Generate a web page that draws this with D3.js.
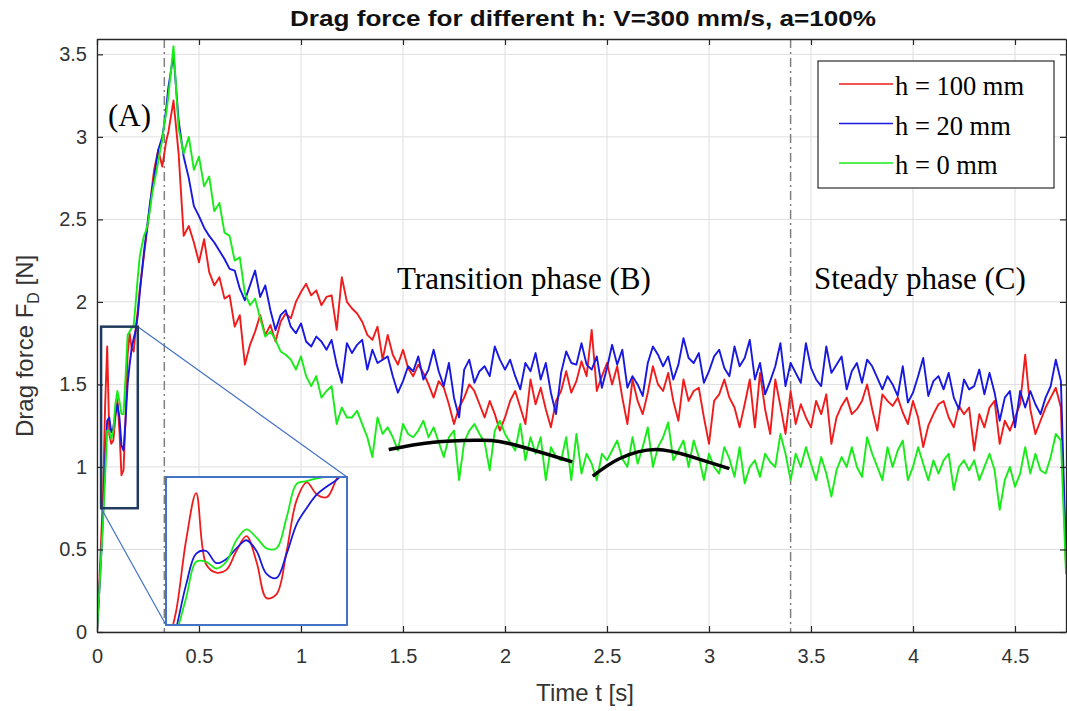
<!DOCTYPE html>
<html>
<head>
<meta charset="utf-8">
<title>Drag force for different h</title>
<script src="https://cdn.jsdelivr.net/npm/d3@7"></script>
<style>
  body { margin: 0; background: #fff; }
  text { font-family: "Liberation Sans", Arial, Helvetica, sans-serif; }
  .serif { font-family: "Liberation Serif", "Times New Roman", serif; }
</style>
</head>
<body>
<script>
// sample times: fine steps during the start-up, coarser afterwards
var earlyStep = 0.01;
var mainStart = 0.35, mainStep = 0.025;

var seriesNames = ["h = 100 mm", "h = 20 mm", "h = 0 mm"];
var seriesColors = ["#f01c1c", "#1818e0", "#18ec18"];

// t = 0 .. 0.34 s
var redEarly = [0, 0.25, 0.55, 0.85, 1.38, 1.73, 1.20, 1.14, 1.16, 1.30, 1.41, 1.22, 0.95, 0.98, 1.30, 1.68, 1.81, 1.72, 1.70, 1.84,
  1.95, 2.08, 2.18, 2.28, 2.38, 2.48, 2.58, 2.70, 2.80, 2.86, 2.92, 2.87, 2.82, 2.90, 2.98];
var blueEarly = [0, 0.22, 0.45, 0.72, 1.05, 1.28, 1.30, 1.21, 1.24, 1.32, 1.38, 1.30, 1.13, 1.10, 1.28, 1.50, 1.62, 1.72, 1.78, 1.83,
  1.92, 2.06, 2.18, 2.30, 2.40, 2.50, 2.60, 2.68, 2.75, 2.84, 2.92, 2.96, 3.00, 3.08, 3.18];
var greenEarly = [0, 0.22, 0.45, 0.68, 0.95, 1.22, 1.22, 1.17, 1.22, 1.38, 1.46, 1.40, 1.32, 1.32, 1.55, 1.80, 1.82, 1.84, 1.86, 2.00,
  2.15, 2.28, 2.34, 2.40, 2.43, 2.48, 2.56, 2.65, 2.72, 2.78, 2.85, 2.92, 2.98, 3.08, 3.15];

// t = 0.35 .. 4.75 s
var redMain = [
  3.03, 3.22, 2.90, 2.40, 2.46, 2.36, 2.24, 2.38,
  2.18, 2.10, 2.15, 2.02, 2.04, 1.85, 1.92, 1.62,
  1.74, 1.82, 1.92, 1.80, 1.86, 1.76, 1.88, 1.93,
  1.90, 2.00, 2.06, 2.11, 2.04, 2.07, 1.98, 2.03,
  2.04, 1.83, 2.15, 2.00, 1.96, 1.93, 1.88, 1.80,
  1.77, 1.85, 1.65, 1.80, 1.68, 1.62, 1.71, 1.60,
  1.55, 1.62, 1.57, 1.50, 1.42, 1.52, 1.48, 1.38,
  1.26, 1.36, 1.42, 1.50, 1.46, 1.38, 1.30, 1.40,
  1.32, 1.22, 1.30, 1.40, 1.46, 1.36, 1.26, 1.53,
  1.38, 1.48, 1.35, 1.24, 1.40, 1.46, 1.58, 1.45,
  1.52, 1.64, 1.55, 1.83, 1.46, 1.55, 1.63, 1.50,
  1.61, 1.42, 1.26, 1.53, 1.40, 1.32, 1.45, 1.61,
  1.50, 1.46, 1.57, 1.40, 1.28, 1.53, 1.40, 1.46,
  1.48, 1.30, 1.14, 1.40, 1.44, 1.53, 1.42, 1.36,
  1.24, 1.38, 1.53, 1.24, 1.57, 1.35, 1.20, 1.53,
  1.37, 1.20, 1.46, 1.26, 1.38, 1.30, 1.24, 1.40,
  1.32, 1.44, 1.14, 1.30, 1.37, 1.42, 1.32, 1.35,
  1.40, 1.50, 1.35, 1.22, 1.44, 1.40, 1.37, 1.42,
  1.33, 1.26, 1.40, 1.30, 1.12, 1.25, 1.32, 1.38,
  1.40, 1.30, 1.24, 1.37, 1.32, 1.36, 1.10, 1.32,
  1.24, 1.36, 1.40, 1.14, 1.28, 1.22, 1.30, 1.38,
  1.68, 1.35, 1.20, 1.28, 1.36, 1.42, 1.48, 1.36,
  0.40];
var blueMain = [
  3.30, 3.50, 3.10, 2.88, 2.75, 2.58, 2.52, 2.45,
  2.40, 2.36, 2.31, 2.26, 2.20, 2.19, 2.08, 2.01,
  2.10, 2.19, 2.03, 2.10, 1.95, 1.83, 1.92, 1.95,
  1.85, 1.81, 1.87, 1.76, 1.73, 1.79, 1.76, 1.71,
  1.77, 1.62, 1.51, 1.75, 1.69, 1.74, 1.77, 1.59,
  1.71, 1.63, 1.65, 1.67, 1.55, 1.45, 1.52, 1.61,
  1.58, 1.67, 1.53, 1.59, 1.71, 1.58, 1.49, 1.63,
  1.42, 1.30, 1.59, 1.65, 1.51, 1.58, 1.61, 1.55,
  1.73, 1.65, 1.59, 1.65, 1.55, 1.47, 1.63, 1.58,
  1.69, 1.53, 1.63, 1.45, 1.32, 1.57, 1.70, 1.63,
  1.62, 1.75, 1.62, 1.59, 1.67, 1.48, 1.60, 1.74,
  1.62, 1.71, 1.48, 1.55, 1.50, 1.43, 1.63, 1.73,
  1.68, 1.61, 1.67, 1.53, 1.62, 1.78, 1.66, 1.63,
  1.69, 1.51, 1.58, 1.67, 1.71, 1.60, 1.55, 1.73,
  1.61, 1.66, 1.77, 1.53, 1.63, 1.44, 1.52, 1.61,
  1.75, 1.49, 1.63, 1.57, 1.51, 1.75, 1.60, 1.53,
  1.49, 1.73, 1.57, 1.62, 1.67, 1.47, 1.58, 1.63,
  1.51, 1.65, 1.61, 1.54, 1.47, 1.55, 1.50, 1.43,
  1.61, 1.39, 1.45, 1.55, 1.66, 1.43, 1.52, 1.55,
  1.47, 1.57, 1.42, 1.35, 1.53, 1.47, 1.49, 1.59,
  1.44, 1.57, 1.45, 1.28, 1.42, 1.46, 1.24, 1.46,
  1.36, 1.46, 1.38, 1.32, 1.42, 1.49, 1.65, 1.52,
  0.45];
var greenMain = [
  3.25, 3.55, 3.05, 2.90, 3.00, 2.80, 2.88, 2.70,
  2.76, 2.55, 2.60, 2.42, 2.40, 2.25, 2.27, 2.05,
  1.98, 2.02, 1.90, 1.79, 1.82, 1.77, 1.70, 1.68,
  1.65, 1.59, 1.67, 1.55, 1.49, 1.55, 1.42, 1.46,
  1.49, 1.26, 1.36, 1.30, 1.30, 1.34, 1.26, 1.18,
  1.06, 1.30, 1.20, 1.24, 1.18, 1.10, 1.26, 1.20,
  1.18, 1.22, 1.28, 1.18, 1.24, 1.15, 1.06, 1.18,
  1.22, 0.92, 1.15, 1.22, 1.26, 1.20, 1.15, 0.98,
  1.22, 1.28, 1.20, 1.15, 1.10, 1.26, 1.04, 1.18,
  1.08, 1.18, 0.92, 1.12, 1.06, 1.04, 1.18, 0.92,
  1.20, 0.96, 1.08, 1.02, 0.92, 1.08, 1.04, 1.10,
  1.16, 1.05, 1.00, 1.18, 1.02, 1.12, 1.24, 1.00,
  1.12, 1.18, 1.27, 1.04, 1.10, 1.16, 1.00, 1.16,
  1.06, 0.92, 1.08, 1.00, 0.96, 1.12, 1.05, 0.94,
  1.12, 0.90, 1.00, 1.04, 0.94, 1.08, 1.03, 1.00,
  1.20, 1.08, 0.92, 1.08, 1.00, 1.12, 1.02, 0.92,
  1.06, 0.96, 0.82, 0.98, 1.06, 1.00, 1.12, 1.00,
  0.94, 1.18, 1.08, 1.00, 0.92, 1.12, 1.00, 1.10,
  1.16, 0.92, 1.00, 1.12, 1.02, 0.92, 1.04, 0.96,
  1.04, 1.08, 0.86, 1.00, 1.04, 0.98, 1.04, 0.92,
  1.00, 1.08, 0.98, 0.74, 0.92, 1.00, 0.88, 0.96,
  1.12, 0.96, 1.08, 0.98, 0.96, 1.06, 1.20, 1.16,
  0.35];

var xTicks = [0, 0.5, 1, 1.5, 2, 2.5, 3, 3.5, 4, 4.5];
var xTickLabels = ["0", "0.5", "1", "1.5", "2", "2.5", "3", "3.5", "4", "4.5"];
var yTicks = [0, 0.5, 1, 1.5, 2, 2.5, 3, 3.5];
var yTickLabels = ["0", "0.5", "1", "1.5", "2", "2.5", "3", "3.5"];

// phase borders (dash-dot) and zoomed window
var phaseBorders = [0.33, 3.4];
var zoomT = [0.02, 0.2], zoomF = [0.75, 1.85];

// hand-drawn trend arcs over the h = 0 mm curve
var arcOneT = [1.43, 1.65, 1.86, 2.02, 2.33];
var arcOneF = [1.106, 1.15, 1.162, 1.142, 1.031];
var arcTwoT = [2.43, 2.56, 2.74, 2.92, 3.10];
var arcTwoF = [0.944, 1.05, 1.106, 1.06, 0.99];

var width = 1067, height = 711;
var plot = { left: 97, right: 1066, top: 39, bottom: 632 };
var inset = { left: 166, top: 477, width: 181, height: 148 };

var svg = d3.select("body").append("svg")
  .attr("width", width)
  .attr("height", height)
  .style("background", "#fff");

var x = d3.scaleLinear().domain([0, 4.75]).range([plot.left, plot.right]);
var y = d3.scaleLinear().domain([0, 3.593]).range([plot.bottom, plot.top]);

function toPoints(early, main) {
  var pts = early.map(function (f, i) { return { t: i * earlyStep, f: f }; });
  return pts.concat(main.map(function (f, i) { return { t: mainStart + i * mainStep, f: f }; }));
}
var series = [
  { name: seriesNames[0], color: seriesColors[0], values: toPoints(redEarly, redMain) },
  { name: seriesNames[1], color: seriesColors[1], values: toPoints(blueEarly, blueMain) },
  { name: seriesNames[2], color: seriesColors[2], values: toPoints(greenEarly, greenMain) }
];

svg.append("defs").append("clipPath").attr("id", "plotclip")
  .append("rect")
  .attr("x", plot.left).attr("y", plot.top)
  .attr("width", plot.right - plot.left).attr("height", plot.bottom - plot.top);
svg.select("defs").append("clipPath").attr("id", "insetclip")
  .append("rect")
  .attr("x", inset.left).attr("y", inset.top)
  .attr("width", inset.width).attr("height", inset.height);

// grid
svg.append("g").selectAll("line").data(xTicks).enter().append("line")
  .attr("x1", function (d) { return x(d); }).attr("x2", function (d) { return x(d); })
  .attr("y1", plot.top).attr("y2", plot.bottom)
  .attr("stroke", "#dedede").attr("stroke-width", 1);
svg.append("g").selectAll("line").data(yTicks).enter().append("line")
  .attr("y1", function (d) { return y(d); }).attr("y2", function (d) { return y(d); })
  .attr("x1", plot.left).attr("x2", plot.right)
  .attr("stroke", "#dedede").attr("stroke-width", 1);

// phase borders
svg.append("g").selectAll("line").data(phaseBorders).enter().append("line")
  .attr("x1", function (d) { return x(d); }).attr("x2", function (d) { return x(d); })
  .attr("y1", plot.top).attr("y2", plot.bottom)
  .attr("stroke", "#808080").attr("stroke-width", 1.5)
  .attr("stroke-dasharray", "9,4,2,4");

// curves
var line = d3.line()
  .x(function (d) { return x(d.t); })
  .y(function (d) { return y(d.f); });

svg.append("g").attr("clip-path", "url(#plotclip)")
  .selectAll("path").data(series).enter().append("path")
  .attr("d", function (d) { return line(d.values); })
  .attr("fill", "none")
  .attr("stroke", function (d) { return d.color; })
  .attr("stroke-width", 1.9)
  .attr("stroke-linejoin", "round");

// trend arcs
var arcLine = d3.line().curve(d3.curveNatural)
  .x(function (d) { return x(d[0]); })
  .y(function (d) { return y(d[1]); });
[d3.zip(arcOneT, arcOneF), d3.zip(arcTwoT, arcTwoF)].forEach(function (pts) {
  svg.append("path")
    .attr("d", arcLine(pts))
    .attr("fill", "none")
    .attr("stroke", "#000")
    .attr("stroke-width", 3.5);
});

// zoom window + connectors
svg.append("line")
  .attr("x1", x(zoomT[1])).attr("y1", y(zoomF[1]))
  .attr("x2", inset.left + inset.width).attr("y2", inset.top)
  .attr("stroke", "#4472c4").attr("stroke-width", 1.2);
svg.append("line")
  .attr("x1", x(zoomT[0])).attr("y1", y(zoomF[0]))
  .attr("x2", inset.left).attr("y2", inset.top + inset.height)
  .attr("stroke", "#4472c4").attr("stroke-width", 1.2);
svg.append("rect")
  .attr("x", x(zoomT[0])).attr("y", y(zoomF[1]))
  .attr("width", x(zoomT[1]) - x(zoomT[0]))
  .attr("height", y(zoomF[0]) - y(zoomF[1]))
  .attr("fill", "none")
  .attr("stroke", "#1f3a5c").attr("stroke-width", 2.5);

// inset
var xi = d3.scaleLinear().domain(zoomT).range([inset.left, inset.left + inset.width]);
var yi = d3.scaleLinear().domain(zoomF).range([inset.top + inset.height, inset.top]);
var insetLine = d3.line().curve(d3.curveCatmullRom)
  .x(function (d) { return xi(d.t); })
  .y(function (d) { return yi(d.f); });
svg.append("rect")
  .attr("x", inset.left).attr("y", inset.top)
  .attr("width", inset.width).attr("height", inset.height)
  .attr("fill", "#fff");
svg.append("g").attr("clip-path", "url(#insetclip)")
  .selectAll("path").data(series).enter().append("path")
  .attr("d", function (d) { return insetLine(d.values.filter(function (p) { return p.t <= 0.25; })); })
  .attr("fill", "none")
  .attr("stroke", function (d) { return d.color; })
  .attr("stroke-width", 1.8);
svg.append("rect")
  .attr("x", inset.left).attr("y", inset.top)
  .attr("width", inset.width).attr("height", inset.height)
  .attr("fill", "none")
  .attr("stroke", "#4472c4").attr("stroke-width", 2);

// axes (MATLAB style box, ticks pointing in)
function styleAxis(g) {
  g.select(".domain").attr("stroke", "#262626").attr("stroke-width", 1.3);
  g.selectAll(".tick line").attr("stroke", "#262626").attr("stroke-width", 1.2);
  g.selectAll(".tick text").attr("fill", "#333").attr("font-size", 20)
    .attr("font-family", "'Liberation Sans', Arial, sans-serif");
}
svg.append("g").attr("transform", "translate(0," + plot.bottom + ")")
  .call(d3.axisBottom(x).tickValues(xTicks).tickSizeInner(-6).tickSizeOuter(0).tickPadding(17)
    .tickFormat(function (d, i) { return xTickLabels[i]; }))
  .call(styleAxis);
svg.append("g").attr("transform", "translate(0," + plot.top + ")")
  .call(d3.axisTop(x).tickValues(xTicks).tickSizeInner(-6).tickSizeOuter(0).tickFormat(""))
  .call(styleAxis);
svg.append("g").attr("transform", "translate(" + plot.left + ",0)")
  .call(d3.axisLeft(y).tickValues(yTicks).tickSizeInner(-6).tickSizeOuter(0).tickPadding(10)
    .tickFormat(function (d, i) { return yTickLabels[i]; }))
  .call(styleAxis);
svg.append("g").attr("transform", "translate(" + plot.right + ",0)")
  .call(d3.axisRight(y).tickValues(yTicks).tickSizeInner(-6).tickSizeOuter(0).tickFormat(""))
  .call(styleAxis);

// legend
var legend = svg.append("g").attr("transform", "translate(818,61)");
legend.append("rect")
  .attr("width", 236).attr("height", 127)
  .attr("fill", "#fff").attr("stroke", "#000").attr("stroke-width", 1);
var items = legend.selectAll("g.item").data(series).enter().append("g")
  .attr("transform", function (d, i) { return "translate(0," + (34 + i * 39.5) + ")"; });
items.append("line")
  .attr("x1", 21).attr("x2", 75).attr("y1", -11).attr("y2", -11)
  .attr("stroke", function (d) { return d.color; }).attr("stroke-width", 1.5);
items.append("text")
  .attr("class", "serif")
  .attr("x", 77).attr("y", 0)
  .attr("font-size", 26.5)
  .attr("fill", "#000")
  .text(function (d) { return d.name; });

// annotations
svg.append("text").attr("class", "serif").attr("x", 108).attr("y", 126)
  .attr("font-size", 31).text("(A)");
svg.append("text").attr("class", "serif").attr("x", 397).attr("y", 289)
  .attr("font-size", 31).text("Transition phase (B)");
svg.append("text").attr("class", "serif").attr("x", 814).attr("y", 289)
  .attr("font-size", 31).text("Steady phase (C)");

// title and labels
svg.append("text")
  .attr("x", 583).attr("y", 26)
  .attr("text-anchor", "middle")
  .attr("font-size", 22).attr("font-weight", "bold").attr("fill", "#111")
  .attr("textLength", 586).attr("lengthAdjust", "spacingAndGlyphs")
  .text("Drag force for different h: V=300 mm/s, a=100%");
svg.append("text")
  .attr("x", 585).attr("y", 701)
  .attr("text-anchor", "middle")
  .attr("font-size", 24).attr("fill", "#333")
  .text("Time t [s]");
var ylab = svg.append("text")
  .attr("transform", "translate(33,437) rotate(-90)")
  .attr("font-size", 24).attr("fill", "#333");
ylab.append("tspan").text("Drag force F");
ylab.append("tspan").attr("font-size", 16).attr("dy", 6).text("D");
ylab.append("tspan").attr("dy", -6).text(" [N]");
</script>
</body>
</html>
